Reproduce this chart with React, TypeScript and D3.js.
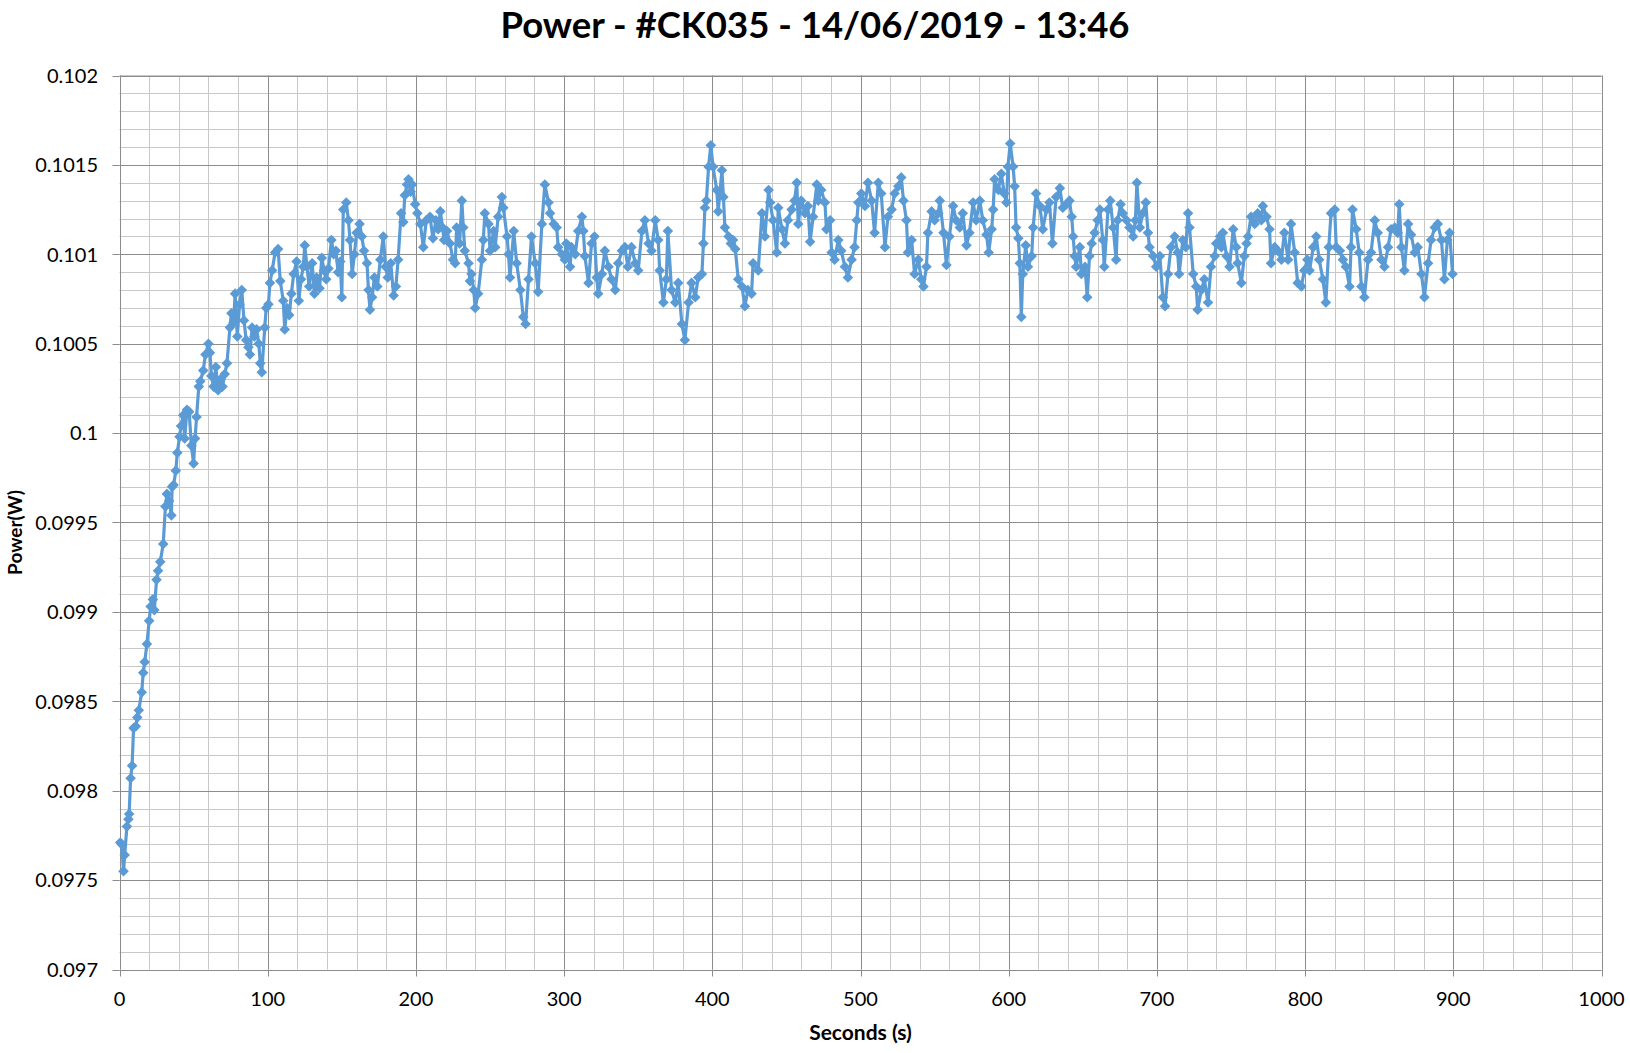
import React from "react";
import * as d3 from "d3";

const TITLE = "Power - #CK035 - 14/06/2019 - 13:46";
const X_TITLE = "Seconds (s)";
const Y_TITLE = "Power(W)";
const X_TICKS = [0, 100, 200, 300, 400, 500, 600, 700, 800, 900, 1000];
const Y_TICKS = [0.097, 0.0975, 0.098, 0.0985, 0.099, 0.0995, 0.1, 0.1005, 0.101, 0.1015, 0.102];
const Y_TICK_LABELS = ["0.097", "0.0975", "0.098", "0.0985", "0.099", "0.0995", "0.1", "0.1005", "0.101", "0.1015", "0.102"];

// [seconds, power W]
const READINGS: [number, number][] = [
  [0.5,0.09771],[1.5,0.09770],[2.7,0.09755],[3.5,0.09764],[5,0.09780],[6,0.09784],[6.5,0.09787],[7.5,0.09807],
  [8.5,0.09814],[9.5,0.09835],[11,0.09836],[12,0.09841],[13,0.09845],[15,0.09855],[16,0.09866],[17,0.09872],
  [18.5,0.09882],[20,0.09895],[21,0.09903],[22.5,0.09907],[23.5,0.09901],[25,0.09918],[26,0.09923],[27.5,0.09928],
  [29.5,0.09938],[31,0.09959],[32,0.09966],[33.5,0.09962],[35,0.09954],[35.5,0.09970],[36.5,0.09971],[38,0.09979],
  [39,0.09989],[40.5,0.09998],[41.5,0.10004],[43,0.10010],[44,0.09997],[45.5,0.10013],[47,0.10012],[48.5,0.09993],
  [50,0.09983],[51,0.09997],[52,0.10009],[53.5,0.10026],[54.5,0.10029],[56.5,0.10035],[58,0.10044],[60,0.10050],
  [61,0.10045],[62,0.10032],[63.5,0.10026],[65,0.10037],[66.5,0.10024],[68,0.10030],[69.5,0.10026],[71,0.10033],
  [72.5,0.10039],[74.5,0.10059],[75.5,0.10067],[77,0.10062],[78,0.10078],[79.5,0.10054],[81,0.10072],[82.5,0.10080],
  [84,0.10063],[85.5,0.10052],[87,0.10048],[88,0.10044],[89.5,0.10059],[91,0.10054],[92.5,0.10058],[94,0.10050],
  [95,0.10039],[96,0.10034],[98,0.10059],[99,0.10070],[100.5,0.10072],[101.5,0.10084],[103,0.10091],[105,0.10101],
  [107,0.10103],[108.5,0.10085],[110.5,0.10074],[111.5,0.10058],[113,0.10070],[114.5,0.10066],[116,0.10078],[117.5,0.10089],
  [119.5,0.10096],[121,0.10074],[122.5,0.10086],[124,0.10093],[125,0.10105],[126.5,0.10093],[128,0.10082],[130,0.10095],
  [131.5,0.10078],[133,0.10087],[135,0.10081],[136.5,0.10098],[138,0.10091],[139.5,0.10086],[141,0.10092],[143,0.10108],
  [144.5,0.10100],[146,0.10102],[147.5,0.10090],[149,0.10096],[150,0.10076],[151,0.10125],[153,0.10129],[154.5,0.10119],
  [155.5,0.10108],[157,0.10089],[158.5,0.10100],[160,0.10112],[162,0.10117],[163.5,0.10110],[165,0.10102],[167,0.10095],
  [168,0.10080],[169,0.10069],[170.5,0.10076],[172,0.10087],[174,0.10082],[176,0.10097],[178,0.10110],[179.5,0.10093],
  [181,0.10087],[183,0.10095],[185,0.10077],[186.5,0.10082],[188,0.10097],[190,0.10123],[191.5,0.10118],[192.5,0.10133],
  [194,0.10139],[195,0.10142],[196.5,0.10135],[197.5,0.10139],[199.5,0.10128],[201,0.10123],[203,0.10117],[205,0.10104],
  [207,0.10119],[209.5,0.10121],[211.5,0.10109],[213.5,0.10119],[215,0.10114],[216.5,0.10124],[218,0.10115],[219,0.10108],
  [221,0.10113],[223,0.10106],[225,0.10097],[226.5,0.10095],[227.5,0.10115],[229.5,0.10106],[231,0.10130],[232,0.10115],
  [233,0.10102],[235.5,0.10095],[236.5,0.10085],[237.5,0.10089],[239,0.10080],[240,0.10070],[242,0.10078],[244.5,0.10097],
  [245.5,0.10108],[246.5,0.10123],[249,0.10117],[250,0.10102],[252.5,0.10113],[253.5,0.10104],[255.5,0.10121],[258,0.10132],
  [259,0.10126],[261.5,0.10110],[262.5,0.10100],[263.5,0.10087],[266,0.10113],[268,0.10095],[270.5,0.10080],[272.5,0.10065],
  [274,0.10061],[276,0.10086],[278,0.10110],[280.5,0.10095],[282.5,0.10079],[285,0.10117],[287,0.10139],[289.5,0.10129],
  [290.5,0.10123],[293,0.10117],[295,0.10115],[296,0.10104],[298.5,0.10100],[300.5,0.10097],[301.5,0.10106],[304,0.10093],
  [305,0.10104],[307.5,0.10100],[309.5,0.10113],[312,0.10121],[313,0.10113],[314,0.10099],[316.5,0.10084],[318.5,0.10106],
  [320.5,0.10110],[322,0.10087],[323,0.10078],[325.5,0.10089],[327.5,0.10102],[330,0.10093],[332,0.10086],[334.5,0.10080],
  [336.5,0.10095],[339,0.10102],[341,0.10104],[343,0.10093],[345.5,0.10104],[348,0.10095],[350,0.10091],[352.5,0.10113],
  [354.5,0.10119],[357,0.10106],[359,0.10102],[361.5,0.10119],[363.5,0.10108],[364.5,0.10091],[367,0.10073],[369,0.10086],
  [370,0.10113],[372.5,0.10080],[375,0.10073],[377,0.10084],[379.5,0.10061],[381.5,0.10052],[384,0.10073],[386,0.10084],
  [388.5,0.10076],[390.5,0.10087],[393,0.10089],[394,0.10106],[395,0.10126],[396,0.10130],[397.5,0.10149],[399,0.10161],
  [400.5,0.10149],[403,0.10136],[404,0.10124],[406.5,0.10147],[407.5,0.10132],[408.5,0.10115],[411,0.10110],[412.5,0.10106],
  [414,0.10108],[415.5,0.10103],[417.5,0.10086],[420,0.10082],[422,0.10071],[424,0.10080],[426.5,0.10078],[427.5,0.10095],
  [431,0.10091],[433.5,0.10123],[435.5,0.10110],[438,0.10136],[439,0.10129],[441,0.10119],[443.5,0.10101],[444.5,0.10126],
  [447,0.10114],[449,0.10106],[451,0.10119],[453.5,0.10125],[455.5,0.10130],[457,0.10140],[458,0.10117],[460,0.10130],
  [462.5,0.10123],[464.5,0.10127],[466,0.10107],[468,0.10121],[470.5,0.10139],[471.5,0.10130],[473.5,0.10136],[476,0.10129],
  [477,0.10114],[479.5,0.10119],[480.5,0.10101],[482.5,0.10097],[485,0.10108],[487,0.10102],[489.5,0.10093],[491.5,0.10087],
  [494,0.10097],[496,0.10104],[497.5,0.10119],[498.5,0.10129],[500.5,0.10134],[503,0.10127],[505,0.10140],[507.5,0.10130],
  [509.5,0.10112],[512,0.10140],[514,0.10134],[516.5,0.10104],[518.5,0.10121],[521,0.10125],[523,0.10134],[525.5,0.10138],
  [527.5,0.10143],[529,0.10130],[531,0.10119],[532,0.10101],[534.5,0.10108],[536.5,0.10089],[539,0.10097],[541,0.10086],
  [542.5,0.10082],[544.5,0.10093],[545.5,0.10112],[548,0.10124],[550,0.10119],[552.5,0.10123],[553.5,0.10130],[556,0.10112],
  [558,0.10094],[560,0.10110],[562.5,0.10127],[564.5,0.10119],[567,0.10115],[569,0.10123],[571.5,0.10105],[573.5,0.10112],
  [576,0.10129],[578,0.10119],[580.5,0.10130],[582.5,0.10119],[585,0.10111],[586.5,0.10101],[588.5,0.10114],[589.5,0.10125],
  [590.5,0.10142],[593,0.10136],[595,0.10145],[597,0.10134],[598.5,0.10129],[599.5,0.10149],[601,0.10162],[603,0.10149],
  [604,0.10138],[605,0.10115],[606.5,0.10109],[607.5,0.10095],[608.5,0.10065],[609.5,0.10089],[611.5,0.10105],[613,0.10093],
  [615.5,0.10099],[616.5,0.10115],[618.5,0.10134],[621,0.10127],[623,0.10114],[625.5,0.10125],[627.5,0.10129],[629.5,0.10106],
  [632,0.10132],[634.5,0.10137],[636.5,0.10126],[639,0.10128],[641,0.10130],[642.5,0.10121],[643.5,0.10110],[644.5,0.10099],
  [645.5,0.10093],[648,0.10104],[649,0.10089],[651.5,0.10093],[653,0.10076],[654.5,0.10099],[656,0.10106],[658,0.10112],
  [660,0.10119],[661.5,0.10125],[663.5,0.10108],[664.5,0.10093],[667,0.10125],[668.5,0.10130],[670.5,0.10115],[672.5,0.10097],
  [673.5,0.10119],[675.5,0.10128],[677,0.10123],[679.5,0.10119],[681.5,0.10115],[684,0.10110],[685.5,0.10119],[686.5,0.10140],
  [688.5,0.10115],[690.5,0.10123],[692.5,0.10129],[694,0.10112],[695,0.10104],[697.5,0.10099],[699.5,0.10093],[702,0.10099],
  [704,0.10076],[705.5,0.10071],[707.5,0.10089],[709.5,0.10104],[712,0.10110],[714,0.10101],[715,0.10089],[717.5,0.10108],
  [719.5,0.10104],[721,0.10123],[722,0.10115],[724.5,0.10089],[726.5,0.10082],[727.5,0.10069],[730,0.10080],[732,0.10086],
  [734.5,0.10073],[736.5,0.10093],[739,0.10099],[740,0.10106],[742.5,0.10110],[743.5,0.10104],[744.5,0.10112],[747,0.10099],
  [749,0.10093],[751.5,0.10114],[753.5,0.10104],[754.5,0.10095],[757,0.10084],[759,0.10099],[760.5,0.10106],[761.5,0.10110],
  [763.5,0.10121],[766,0.10117],[768,0.10123],[770.5,0.10119],[771.5,0.10127],[774,0.10121],[776,0.10114],[777,0.10095],
  [779.5,0.10104],[781.5,0.10102],[784,0.10097],[786,0.10112],[788.5,0.10097],[790.5,0.10117],[793,0.10101],[795,0.10084],
  [797.5,0.10082],[799.5,0.10091],[801.5,0.10097],[803,0.10091],[805.5,0.10104],[807.5,0.10110],[809.5,0.10097],[812,0.10086],
  [814,0.10073],[816,0.10104],[817.5,0.10123],[820,0.10125],[821,0.10104],[823.5,0.10102],[825.5,0.10097],[827.5,0.10093],
  [830,0.10082],[831,0.10104],[832,0.10125],[834.5,0.10114],[836.5,0.10101],[838,0.10082],[840,0.10076],[842.5,0.10097],
  [844.5,0.10101],[847,0.10119],[849,0.10112],[851.5,0.10097],[853.5,0.10093],[856,0.10104],[858,0.10114],[860.5,0.10115],
  [862.5,0.10112],[863.5,0.10128],[865,0.10104],[867,0.10091],[869.5,0.10117],[871.5,0.10111],[874,0.10101],[876,0.10104],
  [878.5,0.10089],[880.5,0.10076],[883,0.10095],[885,0.10108],[887.5,0.10115],[889.5,0.10117],[892,0.10108],[894,0.10086],
  [896,0.10108],[897.5,0.10112],[899.5,0.10089],
];

const W = 1630;
const H = 1053;
const LEFT = 119.5;
const RIGHT = 1601.5;
const TOP = 75.5;
const BOTTOM = 969.5;
const BLUE = "#5B9BD5";
const FONT = "Lato, 'Open Sans', sans-serif";

export default function App() {
  const x = d3.scaleLinear().domain([0, 1000]).range([LEFT, RIGHT]);
  const y = d3.scaleLinear().domain([0.097, 0.102]).range([BOTTOM, TOP]);

  const minorX = d3.range(0, 1001, 20);
  const minorY = d3.range(0, 51).map((i) => 0.097 + i * 0.0001);

  const line = d3
    .line<[number, number]>()
    .x((d) => x(d[0]))
    .y((d) => y(d[1]));

  const diamond = d3.symbol().type(d3.symbolSquare).size(56)();

  return (
    <div style={{ position: "absolute", left: 0, top: 0 }}>
      <svg width={W} height={H} style={{ display: "block", background: "#fff" }}>
        <rect x={0} y={0} width={W} height={H} fill="#fff" />
        {/* minor grid */}
        <g stroke="#c8c8c8" strokeWidth={1}>
          {minorX.map((v) => (
            <line key={"mx" + v} x1={Math.round(x(v)) + 0.5} x2={Math.round(x(v)) + 0.5} y1={TOP} y2={BOTTOM} />
          ))}
          {minorY.map((v, i) => (
            <line key={"my" + i} x1={LEFT} x2={RIGHT} y1={Math.round(y(v)) + 0.5} y2={Math.round(y(v)) + 0.5} />
          ))}
        </g>
        {/* major grid */}
        <g stroke="#8c8c8c" strokeWidth={1}>
          {X_TICKS.map((v) => (
            <line key={"Mx" + v} x1={Math.round(x(v)) + 0.5} x2={Math.round(x(v)) + 0.5} y1={TOP} y2={BOTTOM} />
          ))}
          {Y_TICKS.map((v, i) => (
            <line key={"My" + i} x1={LEFT} x2={RIGHT} y1={Math.round(y(v)) + 0.5} y2={Math.round(y(v)) + 0.5} />
          ))}
        </g>
        {/* axes ticks */}
        <g stroke="#8c8c8c" strokeWidth={1}>
          {Y_TICKS.map((v, i) => (
            <line key={"ty" + i} x1={LEFT - 7} x2={LEFT} y1={Math.round(y(v)) + 0.5} y2={Math.round(y(v)) + 0.5} />
          ))}
          {X_TICKS.map((v) => (
            <line key={"tx" + v} x1={Math.round(x(v)) + 0.5} x2={Math.round(x(v)) + 0.5} y1={BOTTOM} y2={BOTTOM + 7} />
          ))}
        </g>
        {/* tick labels */}
        <g fontFamily={FONT} fontSize={20} fill="#000">
          {Y_TICKS.map((v, i) => (
            <text key={"ly" + i} x={98} y={y(v)} dy="0.36em" textAnchor="end">
              {Y_TICK_LABELS[i]}
            </text>
          ))}
          {X_TICKS.map((v) => (
            <text key={"lx" + v} x={x(v)} y={1006} textAnchor="middle">
              {v}
            </text>
          ))}
        </g>
        {/* series */}
        <path d={line(READINGS) || ""} fill="none" stroke={BLUE} strokeWidth={3.2} strokeLinejoin="round" />
        <g fill={BLUE}>
          {READINGS.map((d, i) => (
            <path key={"m" + i} d={diamond || ""} transform={`translate(${x(d[0])},${y(d[1])}) rotate(45)`} />
          ))}
        </g>
        {/* titles */}
        <text x={815} y={38} textAnchor="middle" fontFamily={FONT} fontWeight="bold" fontSize={36.5} fill="#000">
          {TITLE}
        </text>
        <text x={(LEFT + RIGHT) / 2} y={1040} textAnchor="middle" fontFamily={FONT} fontWeight="bold" fontSize={21} fill="#000">
          {X_TITLE}
        </text>
        <text
          transform={`translate(22,${(TOP + BOTTOM) / 2 + 10}) rotate(-90)`}
          textAnchor="middle"
          fontFamily={FONT}
          fontWeight="bold"
          fontSize={19}
          fill="#000"
        >
          {Y_TITLE}
        </text>
      </svg>
    </div>
  );
}
